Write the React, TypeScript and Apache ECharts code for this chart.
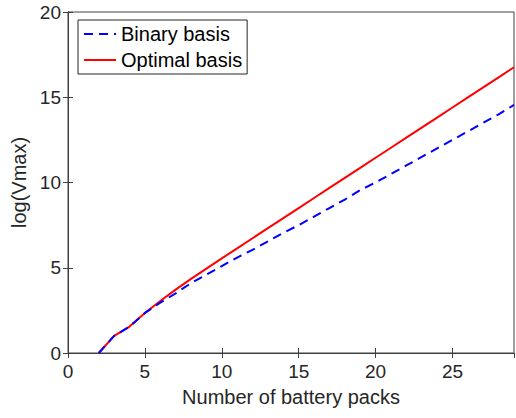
import React, { useEffect, useRef } from "react";
import * as echarts from "echarts";

const packs = [2, 3, 4, 5, 6, 7, 8, 9, 10, 11, 12, 13, 14, 15, 16, 17, 18, 19, 20, 21, 22, 23, 24, 25, 26, 27, 28, 29];
const binaryBasis = [0, 1.0, 1.55, 2.35, 2.95, 3.5, 4.1, 4.6, 5.1, 5.6, 6.05, 6.55, 7.05, 7.5, 8.0, 8.5, 9.0, 9.55, 10.0, 10.5, 11.0, 11.5, 12.0, 12.5, 13.0, 13.5, 14.0, 14.55];
const optimalBasis = [0, 1.0, 1.55, 2.35, 3.05, 3.72, 4.35, 4.95, 5.55, 6.14, 6.73, 7.32, 7.91, 8.5, 9.09, 9.68, 10.27, 10.86, 11.45, 12.04, 12.63, 13.22, 13.81, 14.4, 14.99, 15.58, 16.17, 16.76];
const xTicks = { min: 0, max: 29, interval: 5 };
const yTicks = { min: 0, max: 20, interval: 5 };

const FONT = "'Liberation Sans', Arial, Helvetica, sans-serif";
const TXT = "#262626";
const AX = "#404040";

export default function App() {
  const ref = useRef<HTMLDivElement>(null);
  useEffect(() => {
    document.body.style.margin = "0";
    const chart = echarts.init(ref.current!, null, { renderer: "svg" });
    const tickCommon = {
      axisTick: { show: true, inside: true, length: 5, lineStyle: { color: AX } },
      axisLine: { show: true, lineStyle: { color: AX, width: 1 } },
      splitLine: { show: false },
    };
    chart.setOption({
      animation: false,
      backgroundColor: "#ffffff",
      textStyle: { fontFamily: FONT },
      grid: {
        left: 68,
        right: 2,
        top: 12,
        bottom: 65,
        show: true,
        borderColor: AX,
        borderWidth: 1,
        containLabel: false,
        outerBoundsMode: "none",
      },
      legend: {
        orient: "vertical",
        left: 78,
        top: 20,
        padding: [4, 5, 4, 5],
        itemGap: 6,
        itemWidth: 32,
        itemHeight: 14,
        itemStyle: { opacity: 0 },
        borderColor: TXT,
        borderWidth: 1,
        backgroundColor: "#ffffff",
        textStyle: { fontSize: 20, color: "#000", fontFamily: FONT },
        data: ["Binary basis", "Optimal basis"],
      },
      xAxis: [
        {
          type: "value",
          ...xTicks,
          position: "bottom",
          ...tickCommon,
          axisLabel: { fontSize: 19, color: TXT, margin: 9, fontFamily: FONT, showMaxLabel: false },
          name: "Number of battery packs",
          nameLocation: "middle",
          nameGap: 34,
          nameTextStyle: { fontSize: 20, color: TXT, fontFamily: FONT },
        },
        {
          type: "value",
          ...xTicks,
          position: "top",
          ...tickCommon,
          axisLabel: { show: false },
        },
      ],
      yAxis: [
        {
          type: "value",
          ...yTicks,
          position: "left",
          ...tickCommon,
          axisLabel: { fontSize: 19, color: TXT, margin: 7, fontFamily: FONT },
          name: "log(Vmax)",
          nameLocation: "middle",
          nameGap: 30,
          nameTextStyle: { fontSize: 20, color: TXT, fontFamily: FONT },
        },
        {
          type: "value",
          ...yTicks,
          position: "right",
          ...tickCommon,
          axisLabel: { show: false },
        },
      ],
      series: [
        {
          name: "Binary basis",
          type: "line",
          data: packs.map((p, i) => [p, binaryBasis[i]]),
          showSymbol: false,
          symbol: "none",
          color: "#0000ff",
          lineStyle: { color: "#0000ff", width: 2, type: [9, 6] },
          z: 3,
        },
        {
          name: "Optimal basis",
          type: "line",
          data: packs.map((p, i) => [p, optimalBasis[i]]),
          showSymbol: false,
          symbol: "none",
          color: "#ff0000",
          lineStyle: { color: "#ff0000", width: 2 },
          z: 2,
        },
      ],
    });
    return () => chart.dispose();
  }, []);
  return <div ref={ref} style={{ width: 516, height: 418 }} />;
}
